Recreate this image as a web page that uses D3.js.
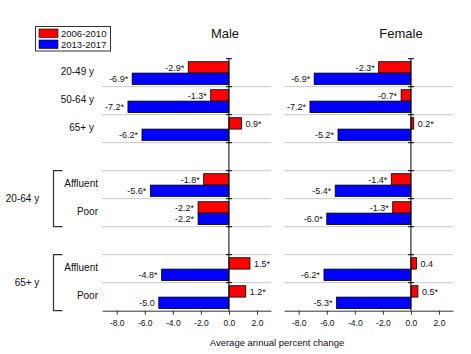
<!DOCTYPE html>
<html>
<head>
<meta charset="UTF-8">
<title>Average annual percent change</title>
<script src="https://d3js.org/d3.v7.min.js"></script>
<style>
  body { margin: 0; background: #fff; }
  svg text { font-family: "Liberation Sans", Arial, sans-serif; fill: #111; }
</style>
</head>
<body>
<div class="canvas"></div>
<script>
  // data
  const categories = ['20-49 y', '50-64 y', '65+ y', 'Affluent', 'Poor', 'Affluent', 'Poor'];
  const groups = ['', '', '', '20-64 y', '20-64 y', '65+ y', '65+ y'];
  const periods = ['2006-2010', '2013-2017'];
  const colors = ['#ff0000', '#0000ff'];

  const male2006 = [-2.9, -1.3, 0.9, -1.8, -2.2, 1.5, 1.2];
  const male2013 = [-6.9, -7.2, -6.2, -5.6, -2.2, -4.8, -5.0];
  const maleSig2006 = [1, 1, 1, 1, 1, 1, 1];
  const maleSig2013 = [1, 1, 1, 1, 1, 1, 0];

  const female2006 = [-2.3, -0.7, 0.2, -1.4, -1.3, 0.4, 0.5];
  const female2013 = [-6.9, -7.2, -5.2, -5.4, -6.0, -6.2, -5.3];
  const femaleSig2006 = [1, 1, 1, 1, 1, 0, 1];
  const femaleSig2013 = [1, 1, 1, 1, 1, 1, 1];

  const xTicks = [-8, -6, -4, -2, 0, 2];
  const xDomain = [-9.05, 3];

  const fmt = v => v.toFixed(1);   // plain hyphen, not unicode minus

  const width = 471, height = 354;
  const svg = d3.select('.canvas').append('svg')
    .attr('width', width).attr('height', height);

  // one empty slot between groups
  const slots = [];
  categories.forEach((c, i) => {
    if (i > 0 && groups[i] !== groups[i - 1]) slots.push('gap' + i);
    slots.push('r' + i);
  });

  const y = d3.scaleBand().domain(slots).range([58.7, 310.7]).padding(0);
  const bw = y.bandwidth();
  const barH = 11.4;

  const panels = [
    { title: 'Male', x0: 102, x1: 271, a: male2006, b: male2013, sa: maleSig2006, sb: maleSig2013, tx: 225 },
    { title: 'Female', x0: 284, x1: 453, a: female2006, b: female2013, sa: femaleSig2006, sb: femaleSig2013, tx: 401 }
  ];

  panels.forEach(p => {
    const x = d3.scaleLinear().domain(xDomain).range([p.x0, p.x1]);
    const g = svg.append('g');

    // grid lines at every row boundary except the top one
    const bounds = slots.slice(1).map(s => y(s));
    g.selectAll('.grid').data(bounds).enter().append('line')
      .attr('x1', p.x0).attr('x2', p.x1)
      .attr('y1', d => d).attr('y2', d => d)
      .attr('stroke', '#c8c8c8').attr('stroke-width', 1);

    const rows = categories.map((c, i) => ({
      i, key: 'r' + i,
      vals: [p.a[i], p.b[i]],
      sig: [p.sa[i], p.sb[i]]
    }));

    rows.forEach(r => {
      r.vals.forEach((v, k) => {
        const top = y(r.key) + 3 + k * barH;
        g.append('rect')
          .attr('x', Math.min(x(0), x(v)))
          .attr('y', top)
          .attr('width', Math.abs(x(v) - x(0)))
          .attr('height', barH)
          .attr('fill', colors[k])
          .attr('stroke', '#000')
          .attr('stroke-width', 0.8);
        g.append('text')
          .attr('x', v < 0 ? x(v) - 4 : x(v) + 4)
          .attr('y', top + barH / 2)
          .attr('dy', '0.35em')
          .attr('text-anchor', v < 0 ? 'end' : 'start')
          .attr('font-size', 9)
          .text(fmt(v) + (r.sig[k] ? '*' : ''));
      });
    });

    // zero line with small ticks at row boundaries
    g.append('line')
      .attr('x1', x(0)).attr('x2', x(0))
      .attr('y1', y.range()[0]).attr('y2', y.range()[1])
      .attr('stroke', '#000').attr('stroke-width', 1);
    g.selectAll('.zt').data(slots.map(s => y(s))).enter().append('line')
      .attr('x1', x(0) - 3).attr('x2', x(0) + 3)
      .attr('y1', d => d).attr('y2', d => d)
      .attr('stroke', '#000');

    const axis = d3.axisBottom(x).tickValues(xTicks)
      .tickFormat(fmt).tickSize(4).tickSizeOuter(0);
    const ax = g.append('g')
      .attr('transform', `translate(0,${y.range()[1]})`)
      .call(axis);
    ax.select('.domain').attr('stroke', '#333');
    ax.selectAll('.tick line').attr('stroke', '#333');
    ax.selectAll('.tick text')
      .attr('font-family', '"Liberation Sans", Arial, sans-serif')
      .attr('font-size', 8.5).attr('fill', '#222').attr('dy', '0.95em');

    svg.append('text')
      .attr('x', p.tx).attr('y', 38)
      .attr('text-anchor', 'middle')
      .attr('font-size', 13)
      .text(p.title);
  });

  // row labels
  categories.forEach((c, i) => {
    svg.append('text')
      .attr('x', groups[i] ? 98 : 94)
      .attr('y', y('r' + i) + bw / 2 - 1)
      .attr('dy', '0.35em')
      .attr('text-anchor', 'end')
      .attr('font-size', 10)
      .text(c);
  });

  // group brackets
  const groupNames = Array.from(new Set(groups.filter(d => d)));
  groupNames.forEach(name => {
    const idx = groups.map((d, i) => d === name ? i : -1).filter(i => i >= 0);
    const top = y('r' + idx[0]);
    const bot = y('r' + idx[idx.length - 1]) + bw;
    const bx = 53.5;
    svg.append('path')
      .attr('d', `M${bx + 9},${top}H${bx}V${bot}H${bx + 9}`)
      .attr('fill', 'none').attr('stroke', '#333').attr('stroke-width', 1.2);
    svg.append('text')
      .attr('x', name === '65+ y' ? 27 : 22.5)
      .attr('y', (top + bot) / 2)
      .attr('dy', '0.35em')
      .attr('text-anchor', 'middle')
      .attr('font-size', 10)
      .text(name);
  });

  // legend
  const lg = svg.append('g');
  lg.append('rect')
    .attr('x', 35.5).attr('y', 26.5).attr('width', 75).attr('height', 24.5)
    .attr('fill', '#fff').attr('stroke', '#333');
  periods.forEach((t, k) => {
    lg.append('rect')
      .attr('x', 39).attr('y', 29 + k * 11).attr('width', 19).attr('height', 8.5)
      .attr('fill', colors[k]).attr('stroke', '#000').attr('stroke-width', 0.6);
    lg.append('text')
      .attr('x', 61).attr('y', 33.5 + k * 11)
      .attr('dy', '0.35em')
      .attr('font-size', 9.5)
      .text(t);
  });

  svg.append('text')
    .attr('x', 277).attr('y', 343)
    .attr('dy', '0.35em')
    .attr('text-anchor', 'middle')
    .attr('font-size', 9.5)
    .text('Average annual percent change');
</script>
</body>
</html>
